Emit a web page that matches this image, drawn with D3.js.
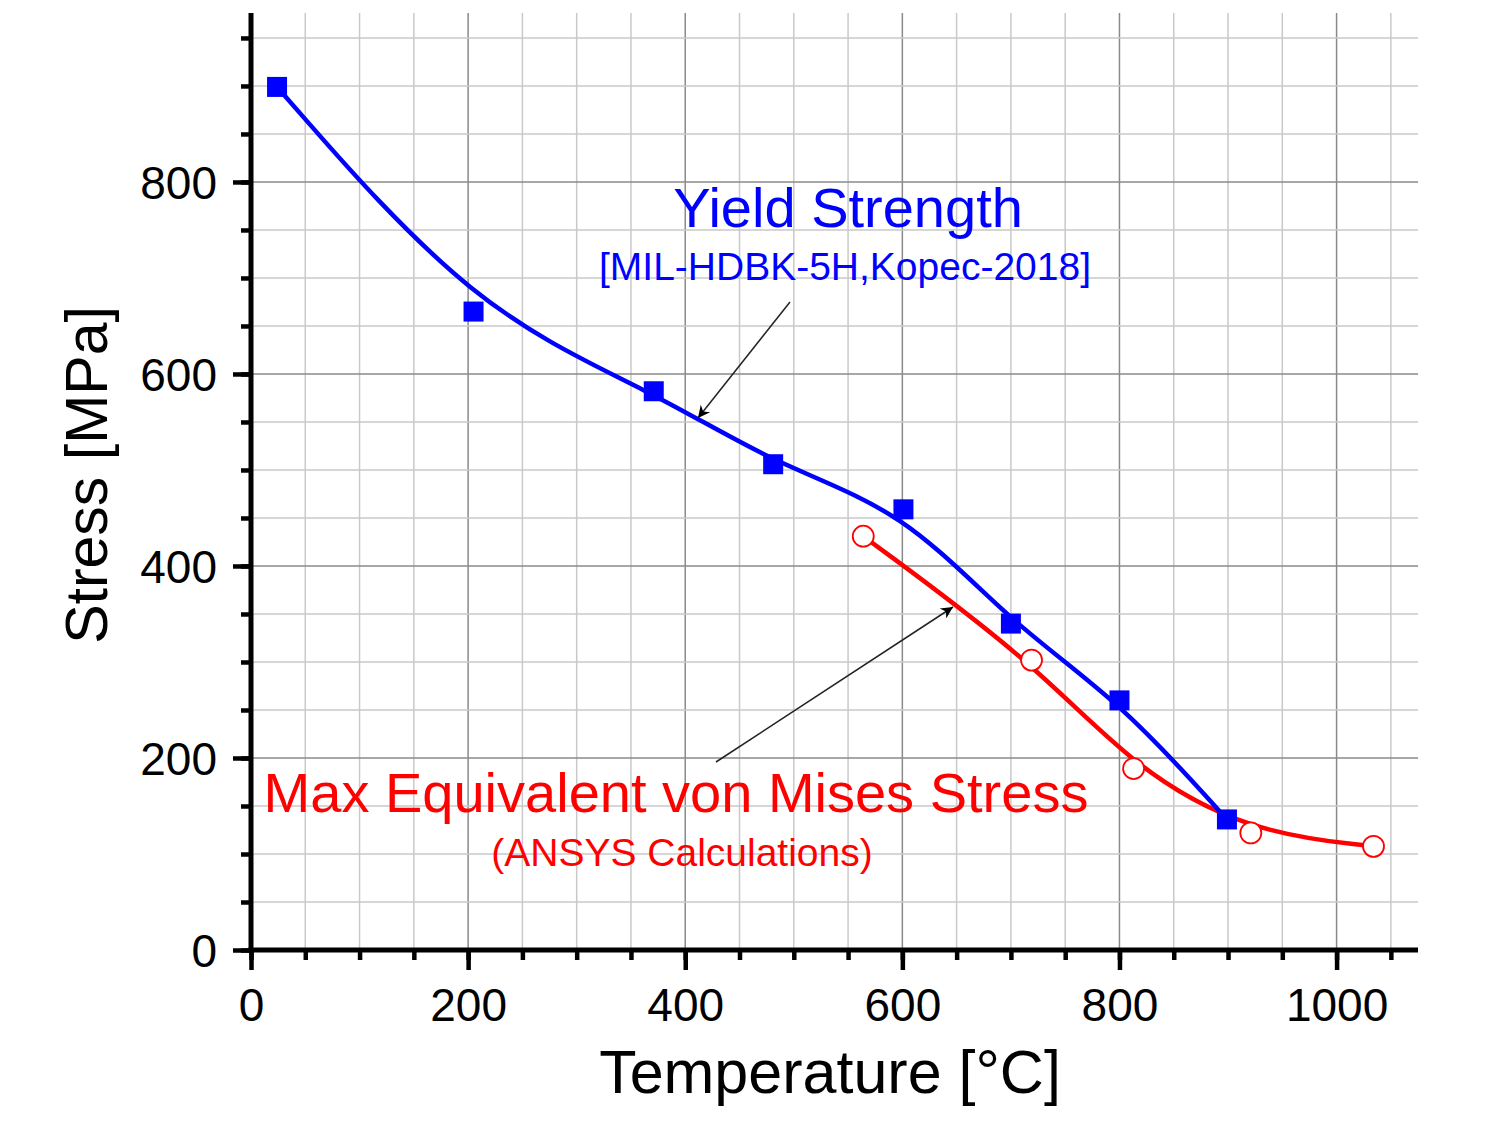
<!DOCTYPE html>
<html>
<head>
<meta charset="utf-8">
<script src="https://cdn.jsdelivr.net/npm/d3@7"></script>
<style>
  body { margin: 0; background: #fff; }
  text { font-family: "Liberation Sans", Arial, sans-serif; }
</style>
</head>
<body>
<div id="chart"></div>
<script>
// yield strength (blue squares)
const yieldTemp = [24, 205, 371, 481, 601, 700, 800, 899];
const yieldStress = [899, 665, 582, 506, 459, 340, 260, 136];

// von Mises stress from ANSYS (red open circles)
const misesTemp = [564, 719, 813, 921, 1034];
const misesStress = [431, 302, 189, 122, 108];

const xTicks = [0, 200, 400, 600, 800, 1000];
const yTicks = [0, 200, 400, 600, 800];

const width = 1500, height = 1125;
const margin = { left: 251, top: 13, right: 82, bottom: 175 };

const svg = d3.select("#chart").append("svg")
    .attr("width", width)
    .attr("height", height);

const x = d3.scaleLinear().domain([0, 1075]).range([margin.left, width - margin.right]);
const y = d3.scaleLinear().domain([0, 976]).range([height - margin.bottom, margin.top]);

const minorX = d3.range(50, 1075, 50);
const minorY = d3.range(50, 976, 50);

//grid: light every 50, darker at majors
const grid = svg.append("g");
grid.selectAll(".gx").data(minorX).enter().append("line")
    .attr("x1", d => x(d)).attr("x2", d => x(d))
    .attr("y1", y.range()[1]).attr("y2", y.range()[0])
    .attr("stroke", d => d % 200 === 0 ? "#8a8a8a" : "#c9c9c9")
    .attr("stroke-width", 1.5);
grid.selectAll(".gy").data(minorY).enter().append("line")
    .attr("y1", d => y(d)).attr("y2", d => y(d))
    .attr("x1", x.range()[0]).attr("x2", x.range()[1])
    .attr("stroke", d => d % 200 === 0 ? "#8a8a8a" : "#c9c9c9")
    .attr("stroke-width", 1.5);

// axes
const xAxisMinor = d3.axisBottom(x).tickValues(d3.range(0, 1075, 50)).tickSize(10).tickFormat("");
const xAxisMajor = d3.axisBottom(x).tickValues(xTicks).tickSize(20).tickPadding(18).tickFormat(d3.format("d"));
const yAxisMinor = d3.axisLeft(y).tickValues(d3.range(0, 976, 50)).tickSize(10).tickFormat("");
const yAxisMajor = d3.axisLeft(y).tickValues(yTicks).tickSize(18).tickPadding(16).tickFormat(d3.format("d"));

function styleAxis(g) {
    g.select(".domain").remove();
    g.selectAll(".tick line").attr("stroke", "#000").attr("stroke-width", 4.5);
    g.selectAll(".tick text").attr("fill", "#000").style("font-size", "46px")
        .style("font-family", "'Liberation Sans', Arial, sans-serif");
}

svg.append("g").attr("transform", `translate(0,${y(0)})`).call(xAxisMinor).call(styleAxis);
svg.append("g").attr("transform", `translate(0,${y(0)})`).call(xAxisMajor).call(styleAxis);
svg.append("g").attr("transform", `translate(${x(0)},0)`).call(yAxisMinor).call(styleAxis);
svg.append("g").attr("transform", `translate(${x(0)},0)`).call(yAxisMajor).call(styleAxis)
    .selectAll(".tick text").attr("dy", "0.35em");

// axis lines
svg.append("line")
    .attr("x1", x(0) - 2.5).attr("x2", x.range()[1])
    .attr("y1", y(0)).attr("y2", y(0))
    .attr("stroke", "#000").attr("stroke-width", 5);
svg.append("line")
    .attr("x1", x(0)).attr("x2", x(0))
    .attr("y1", y(0) + 2.5).attr("y2", y.range()[1])
    .attr("stroke", "#000").attr("stroke-width", 5);

// axis titles
svg.append("text")
    .attr("x", 830).attr("y", 1093)
    .attr("text-anchor", "middle")
    .style("font-size", "61px")
    .text("Temperature [°C]");
svg.append("text")
    .attr("transform", "translate(107,475) rotate(-90)")
    .attr("text-anchor", "middle")
    .style("font-size", "59px")
    .text("Stress [MPa]");

// arrows
const defs = svg.append("defs");
defs.append("marker")
    .attr("id", "arrow")
    .attr("viewBox", "0 0 10 10")
    .attr("refX", 10).attr("refY", 5)
    .attr("markerWidth", 18).attr("markerHeight", 12)
    .attr("markerUnits", "userSpaceOnUse")
    .attr("orient", "auto")
    .append("path")
    .attr("d", "M0,0 L10,5 L0,10 L3,5 Z")
    .attr("fill", "#000");

svg.append("line")
    .attr("x1", 790).attr("y1", 302)
    .attr("x2", 698).attr("y2", 418)
    .attr("stroke", "#222").attr("stroke-width", 1.5)
    .attr("marker-end", "url(#arrow)");
svg.append("line")
    .attr("x1", 716).attr("y1", 762)
    .attr("x2", 953).attr("y2", 607)
    .attr("stroke", "#222").attr("stroke-width", 1.5)
    .attr("marker-end", "url(#arrow)");

// b-spline lines
const yieldData = yieldTemp.map((t, i) => ({ t: t, s: yieldStress[i] }));
const misesData = misesTemp.map((t, i) => ({ t: t, s: misesStress[i] }));

const line = d3.line()
    .x(d => x(d.t))
    .y(d => y(d.s))
    .curve(d3.curveBasis);

svg.append("path").datum(misesData)
    .attr("d", line)
    .attr("fill", "none")
    .attr("stroke", "#ff0000")
    .attr("stroke-width", 4.5);

svg.append("path").datum(yieldData)
    .attr("d", line)
    .attr("fill", "none")
    .attr("stroke", "#0000ff")
    .attr("stroke-width", 4.5);

svg.selectAll(".circ").data(misesData).enter().append("circle")
    .attr("cx", d => x(d.t))
    .attr("cy", d => y(d.s))
    .attr("r", 10.5)
    .attr("fill", "#fff")
    .attr("stroke", "#ff0000")
    .attr("stroke-width", 1.8);

svg.selectAll(".sq").data(yieldData).enter().append("rect")
    .attr("x", d => x(d.t) - 10)
    .attr("y", d => y(d.s) - 10)
    .attr("width", 20)
    .attr("height", 20)
    .attr("fill", "#0000ff");

// labels
svg.append("text")
    .attr("x", 848).attr("y", 227)
    .attr("text-anchor", "middle")
    .attr("fill", "#0000ff")
    .style("font-size", "56px")
    .text("Yield Strength");
svg.append("text")
    .attr("x", 845).attr("y", 280)
    .attr("text-anchor", "middle")
    .attr("fill", "#0000ff")
    .style("font-size", "39px")
    .text("[MIL-HDBK-5H,Kopec-2018]");
svg.append("text")
    .attr("x", 676).attr("y", 812)
    .attr("text-anchor", "middle")
    .attr("fill", "#ff0000")
    .style("font-size", "56px")
    .text("Max Equivalent von Mises Stress");
svg.append("text")
    .attr("x", 682).attr("y", 866)
    .attr("text-anchor", "middle")
    .attr("fill", "#ff0000")
    .style("font-size", "39px")
    .text("(ANSYS Calculations)");
</script>
</body>
</html>
